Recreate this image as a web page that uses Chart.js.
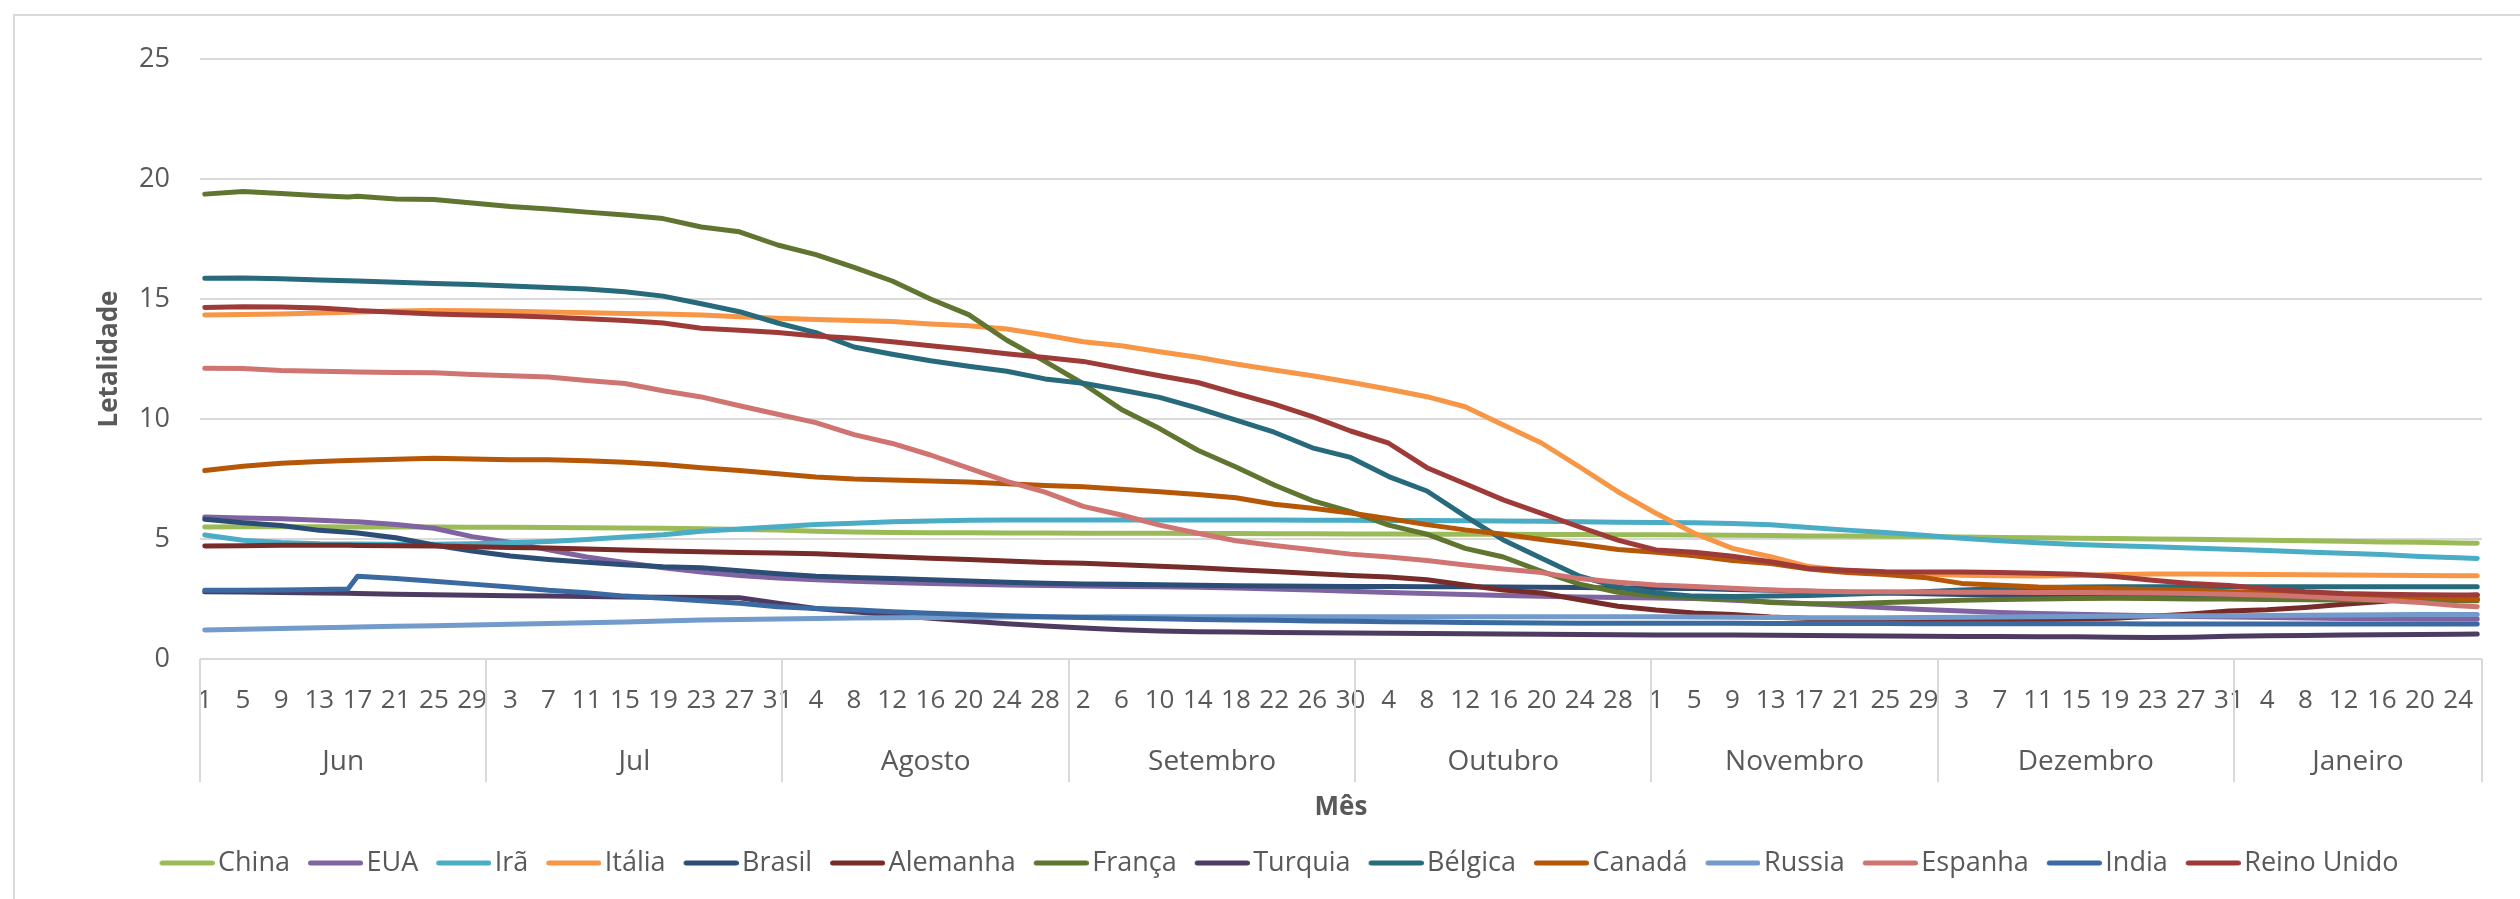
<!DOCTYPE html>
<html>
<head>
<meta charset="utf-8">
<title>Letalidade por mês</title>
<script src="https://cdn.jsdelivr.net/npm/chart.js@4.4.1/dist/chart.umd.min.js"></script>
<style>
  html, body { margin: 0; padding: 0; background: #fff; }
  #wrap { position: relative; width: 2520px; height: 899px; }
  #frame { position: absolute; left: 13px; top: 14px; right: 0; bottom: 0;
           border-left: 2px solid #d9d9d9; border-top: 2px solid #d9d9d9; pointer-events: none; }
  canvas { display: block; }
</style>
</head>
<body>
<div id="wrap">
  <canvas id="chart" width="2520" height="899"></canvas>
  <div id="frame"></div>
</div>
<script>
// categories: one entry per day, Jun 1 .. Jan 26 (Aug has 30 rows in the sheet)
const monthNames = ['Jun', 'Jul', 'Agosto', 'Setembro', 'Outubro', 'Novembro', 'Dezembro', 'Janeiro']
const monthDays = [30, 31, 30, 30, 31, 30, 31, 26]

// day index of every value
const sampleDays = [0, 4, 8, 12, 15, 16, 20, 24, 28, 32,
  36, 40, 44, 48, 52, 56, 60, 64, 68, 72,
  76, 80, 84, 88, 92, 96, 100, 104, 108, 112,
  116, 120, 124, 128, 132, 136, 140, 144, 148, 152,
  156, 160, 164, 168, 172, 176, 180, 184, 188, 192,
  196, 200, 204, 208, 212, 216, 220, 224, 228, 232,
  236, 238]

const china = [5.50, 5.51, 5.51, 5.51, 5.50, 5.50, 5.50, 5.50, 5.49, 5.49,
  5.48, 5.47, 5.46, 5.45, 5.43, 5.40, 5.37, 5.32, 5.29, 5.27,
  5.26, 5.26, 5.25, 5.25, 5.24, 5.24, 5.24, 5.23, 5.23, 5.22,
  5.22, 5.21, 5.21, 5.20, 5.20, 5.20, 5.19, 5.19, 5.18, 5.18,
  5.17, 5.16, 5.15, 5.13, 5.12, 5.11, 5.10, 5.08, 5.06, 5.05,
  5.03, 5.02, 5.00, 4.99, 4.97, 4.95, 4.93, 4.91, 4.88, 4.86,
  4.83, 4.82]
const eua = [5.92, 5.88, 5.84, 5.78, 5.73, 5.72, 5.60, 5.45, 5.10, 4.86,
  4.55, 4.25, 4.02, 3.80, 3.62, 3.48, 3.38, 3.30, 3.24, 3.19,
  3.15, 3.11, 3.08, 3.06, 3.04, 3.02, 3.01, 2.99, 2.96, 2.92,
  2.87, 2.82, 2.77, 2.73, 2.69, 2.65, 2.61, 2.58, 2.56, 2.54,
  2.52, 2.45, 2.38, 2.30, 2.22, 2.14, 2.06, 2.00, 1.94, 1.90,
  1.86, 1.83, 1.80, 1.77, 1.75, 1.73, 1.71, 1.69, 1.68, 1.67,
  1.67, 1.67]
const ira = [5.17, 4.95, 4.85, 4.80, 4.79, 4.79, 4.78, 4.78, 4.80, 4.84,
  4.90, 4.98, 5.08, 5.18, 5.32, 5.42, 5.51, 5.60, 5.66, 5.72,
  5.75, 5.78, 5.79, 5.79, 5.79, 5.79, 5.79, 5.79, 5.79, 5.79,
  5.78, 5.78, 5.77, 5.77, 5.76, 5.75, 5.74, 5.72, 5.70, 5.69,
  5.68, 5.65, 5.59, 5.48, 5.37, 5.27, 5.16, 5.03, 4.93, 4.84,
  4.77, 4.72, 4.68, 4.62, 4.57, 4.52, 4.46, 4.41, 4.35, 4.27,
  4.22, 4.19]
const italia = [14.33, 14.35, 14.38, 14.42, 14.45, 14.46, 14.50, 14.52, 14.51, 14.49,
  14.46, 14.43, 14.40, 14.37, 14.33, 14.26, 14.20, 14.15, 14.10, 14.06,
  13.96, 13.89, 13.75, 13.50, 13.22, 13.05, 12.80, 12.57, 12.29, 12.04,
  11.80, 11.53, 11.24, 10.93, 10.51, 9.75, 9.00, 8.00, 6.97, 6.07,
  5.24, 4.61, 4.26, 3.85, 3.68, 3.60, 3.54, 3.49, 3.47, 3.46,
  3.48, 3.52, 3.54, 3.54, 3.53, 3.52, 3.51, 3.50, 3.49, 3.48,
  3.47, 3.47]
const brasil = [5.82, 5.68, 5.56, 5.36, 5.28, 5.25, 5.05, 4.75, 4.50, 4.29,
  4.15, 4.03, 3.93, 3.84, 3.80, 3.68, 3.55, 3.45, 3.40, 3.35,
  3.30, 3.25, 3.20, 3.16, 3.13, 3.11, 3.09, 3.07, 3.05, 3.04,
  3.03, 3.02, 3.02, 3.01, 3.01, 3.00, 2.99, 2.98, 2.96, 2.95,
  2.94, 2.90, 2.86, 2.82, 2.78, 2.75, 2.72, 2.69, 2.66, 2.63,
  2.61, 2.59, 2.57, 2.56, 2.55, 2.54, 2.53, 2.52, 2.51, 2.50,
  2.50, 2.50]
const alemanha = [4.71, 4.72, 4.74, 4.74, 4.74, 4.73, 4.72, 4.71, 4.68, 4.65,
  4.62, 4.58, 4.54, 4.50, 4.47, 4.44, 4.42, 4.39, 4.32, 4.26,
  4.20, 4.15, 4.08, 4.02, 3.99, 3.93, 3.86, 3.80, 3.72, 3.65,
  3.56, 3.48, 3.42, 3.30, 3.08, 2.87, 2.75, 2.47, 2.20, 2.04,
  1.92, 1.85, 1.75, 1.69, 1.66, 1.64, 1.63, 1.63, 1.63, 1.64,
  1.67, 1.70, 1.78, 1.88, 2.00, 2.05, 2.15, 2.28, 2.40, 2.53,
  2.63, 2.67]
const franca = [19.37, 19.48, 19.40, 19.30, 19.25, 19.28, 19.17, 19.15, 19.00, 18.85,
  18.75, 18.62, 18.50, 18.35, 18.00, 17.80, 17.25, 16.85, 16.32, 15.75,
  15.00, 14.35, 13.28, 12.40, 11.47, 10.40, 9.60, 8.70, 8.00, 7.25,
  6.60, 6.14, 5.58, 5.20, 4.61, 4.25, 3.65, 3.12, 2.78, 2.62,
  2.53, 2.50, 2.35, 2.30, 2.30, 2.35, 2.40, 2.45, 2.48, 2.50,
  2.52, 2.53, 2.52, 2.50, 2.50, 2.48, 2.47, 2.46, 2.45, 2.44,
  2.43, 2.43]
const turquia = [2.80, 2.79, 2.77, 2.75, 2.74, 2.73, 2.70, 2.68, 2.66, 2.64,
  2.62, 2.60, 2.58, 2.57, 2.56, 2.55, 2.32, 2.10, 1.97, 1.83,
  1.70, 1.58, 1.47, 1.37, 1.29, 1.22, 1.17, 1.14, 1.12, 1.10,
  1.09, 1.08, 1.07, 1.06, 1.05, 1.04, 1.03, 1.02, 1.01, 1.00,
  1.00, 1.00, 0.99, 0.98, 0.97, 0.96, 0.95, 0.94, 0.94, 0.93,
  0.93, 0.91, 0.90, 0.91, 0.95, 0.97, 0.98, 1.00, 1.01, 1.02,
  1.03, 1.04]
const belgica = [15.86, 15.88, 15.84, 15.79, 15.76, 15.75, 15.70, 15.65, 15.60, 15.54,
  15.48, 15.42, 15.30, 15.12, 14.80, 14.47, 14.00, 13.60, 13.00, 12.70,
  12.43, 12.20, 11.99, 11.67, 11.49, 11.21, 10.90, 10.45, 9.95, 9.45,
  8.80, 8.40, 7.60, 7.00, 5.95, 4.96, 4.20, 3.45, 3.00, 2.75,
  2.62, 2.60, 2.62, 2.65, 2.70, 2.75, 2.80, 2.87, 2.93, 2.97,
  3.00, 3.01, 3.01, 3.01, 3.01, 3.01, 3.01, 3.01, 3.01, 3.01,
  3.01, 3.01]
const canada = [7.85, 8.03, 8.16, 8.23, 8.27, 8.28, 8.32, 8.36, 8.33, 8.30,
  8.30, 8.26, 8.20, 8.10, 7.97, 7.85, 7.72, 7.58, 7.50, 7.46,
  7.42, 7.37, 7.30, 7.23, 7.18, 7.07, 6.97, 6.85, 6.72, 6.45,
  6.28, 6.08, 5.85, 5.60, 5.38, 5.20, 4.98, 4.78, 4.56, 4.45,
  4.30, 4.10, 3.98, 3.75, 3.60, 3.52, 3.40, 3.15, 3.07, 3.00,
  2.97, 2.93, 2.90, 2.86, 2.80, 2.77, 2.73, 2.68, 2.63, 2.58,
  2.52, 2.50]
const russia = [1.21, 1.24, 1.27, 1.30, 1.32, 1.33, 1.36, 1.39, 1.42, 1.45,
  1.48, 1.51, 1.54, 1.58, 1.62, 1.65, 1.67, 1.69, 1.71, 1.72,
  1.73, 1.74, 1.75, 1.75, 1.75, 1.76, 1.76, 1.76, 1.76, 1.76,
  1.76, 1.76, 1.76, 1.76, 1.76, 1.76, 1.76, 1.76, 1.76, 1.76,
  1.75, 1.74, 1.73, 1.72, 1.72, 1.72, 1.73, 1.74, 1.75, 1.76,
  1.77, 1.78, 1.79, 1.80, 1.80, 1.81, 1.82, 1.83, 1.84, 1.85,
  1.85, 1.85]
const espanha = [12.11, 12.10, 12.02, 11.99, 11.97, 11.96, 11.94, 11.93, 11.85, 11.80,
  11.75, 11.60, 11.48, 11.18, 10.92, 10.55, 10.20, 9.85, 9.35, 8.98,
  8.50, 7.95, 7.40, 6.95, 6.36, 6.00, 5.58, 5.24, 4.93, 4.73,
  4.55, 4.37, 4.25, 4.10, 3.92, 3.75, 3.60, 3.35, 3.20, 3.08,
  3.02, 2.95, 2.88, 2.83, 2.80, 2.80, 2.79, 2.78, 2.78, 2.77,
  2.77, 2.76, 2.75, 2.73, 2.70, 2.66, 2.60, 2.52, 2.45, 2.35,
  2.22, 2.18]
const india = [2.86, 2.86, 2.87, 2.90, 2.92, 3.45, 3.35, 3.24, 3.12, 3.00,
  2.86, 2.76, 2.62, 2.53, 2.43, 2.32, 2.18, 2.10, 2.05, 1.97,
  1.91, 1.85, 1.80, 1.76, 1.73, 1.70, 1.68, 1.65, 1.63, 1.61,
  1.58, 1.57, 1.55, 1.54, 1.52, 1.51, 1.50, 1.49, 1.49, 1.49,
  1.49, 1.49, 1.48, 1.48, 1.48, 1.48, 1.47, 1.47, 1.47, 1.47,
  1.47, 1.47, 1.46, 1.46, 1.46, 1.46, 1.46, 1.46, 1.46, 1.46,
  1.46, 1.46]
const reinoUnido = [14.65, 14.68, 14.67, 14.62, 14.55, 14.52, 14.45, 14.38, 14.33, 14.30,
  14.25, 14.18, 14.10, 14.00, 13.78, 13.70, 13.60, 13.46, 13.36, 13.22,
  13.05, 12.90, 12.72, 12.56, 12.40, 12.10, 11.80, 11.52, 11.07, 10.62,
  10.10, 9.50, 8.99, 7.97, 7.30, 6.63, 6.07, 5.50, 4.95, 4.54,
  4.45, 4.28, 4.05, 3.77, 3.70, 3.64, 3.63, 3.62, 3.60, 3.57,
  3.53, 3.44, 3.28, 3.15, 3.06, 2.92, 2.80, 2.73, 2.70, 2.68,
  2.67, 2.67]

const series = [
  ['China', '#9BBB59', china],
  ['EUA', '#8064A2', eua],
  ['Irã', '#4BACC6', ira],
  ['Itália', '#F79646', italia],
  ['Brasil', '#2C4D75', brasil],
  ['Alemanha', '#772C2A', alemanha],
  ['França', '#5F7530', franca],
  ['Turquia', '#4D3B62', turquia],
  ['Bélgica', '#276A7C', belgica],
  ['Canadá', '#B65708', canada],
  ['Russia', '#729ACA', russia],
  ['Espanha', '#CF7471', espanha],
  ['India', '#3B69A1', india],
  ['Reino Unido', '#9E3B39', reinoUnido],
]

// day of month for each category, and the month groups
const dayOfMonth = []
const monthStart = []
monthDays.forEach(n => {
  monthStart.push(dayOfMonth.length)
  for (let d = 1; d <= n; d++) dayOfMonth.push(d)
})
const lastDay = dayOfMonth.length - 1
const dayTicks = dayOfMonth.map((d, i) => i).filter(i => i % 4 === 0)
const monthCenters = monthStart.map((s, k) => s + (monthDays[k] - 1) / 2)
const monthEdges = monthStart.map(s => s - 0.5).concat(lastDay + 0.5)

const grey = '#595959'
const lineGrey = '#d9d9d9'
Chart.defaults.font.family = "'Open Sans', sans-serif"
Chart.defaults.color = grey

// legend swatch: 55px line, drawn so the label sits right after it like in Excel
const swatch = color => {
  const c = document.createElement('canvas')
  c.width = 65
  c.height = 8
  const g = c.getContext('2d')
  g.strokeStyle = color
  g.lineWidth = 5
  g.lineCap = 'round'
  g.beginPath()
  g.moveTo(12.5, 4)
  g.lineTo(62.5, 4)
  g.stroke()
  return c
}

// vertical separators between the month groups under the plot
const monthLines = {
  id: 'monthLines',
  afterDraw(chart) {
    const { ctx, chartArea } = chart
    const scale = chart.scales.month
    ctx.save()
    ctx.strokeStyle = lineGrey
    ctx.lineWidth = 2
    monthEdges.forEach(v => {
      const x = Math.round(scale.getPixelForValue(v))
      ctx.beginPath()
      ctx.moveTo(x, chartArea.bottom)
      ctx.lineTo(x, chartArea.bottom + 123)
      ctx.stroke()
    })
    ctx.restore()
  },
}

const datasets = series.map(([label, color, vals], n) => ({
  label,
  data: vals.map((v, k) => ({ x: sampleDays[k], y: v })),
  borderColor: color,
  backgroundColor: color,
  borderWidth: 5,
  borderCapStyle: 'round',
  borderJoinStyle: 'round',
  pointRadius: 0,
  pointHoverRadius: 0,
  pointStyle: swatch(color),
  tension: 0,
  order: series.length - n,
}))

new Chart(document.getElementById('chart'), {
  type: 'line',
  data: { datasets },
  plugins: [monthLines],
  options: {
    responsive: false,
    devicePixelRatio: 1,
    animation: false,
    events: [],
    layout: { padding: { left: 76, right: 38, top: 59, bottom: 12.5 } },
    plugins: {
      tooltip: { enabled: false },
      legend: {
        position: 'bottom',
        labels: {
          usePointStyle: true,
          pointStyleWidth: 45,
          padding: 18,
          color: grey,
          font: { size: 27 },
          sort: (a, b) => a.datasetIndex - b.datasetIndex,
        },
      },
    },
    scales: {
      x: {
        type: 'linear',
        position: 'bottom',
        min: -0.5,
        max: lastDay + 0.5,
        afterBuildTicks: s => { s.ticks = dayTicks.map(v => ({ value: v })) },
        afterFit: s => { s.height = 80 },
        ticks: {
          autoSkip: false,
          maxRotation: 0,
          padding: 26,
          font: { size: 26 },
          callback: v => dayOfMonth[v],
        },
        grid: { display: false, drawTicks: false },
        border: { display: false },
      },
      month: {
        type: 'linear',
        axis: 'x',
        position: 'bottom',
        min: -0.5,
        max: lastDay + 0.5,
        afterBuildTicks: s => { s.ticks = monthCenters.map(v => ({ value: v })) },
        afterFit: s => { s.height = 92.5 },
        ticks: {
          autoSkip: false,
          maxRotation: 0,
          padding: 6,
          font: { size: 28 },
          callback: (v, k) => monthNames[k],
        },
        grid: { display: false, drawTicks: false },
        border: { display: false },
        title: {
          display: true,
          text: 'Mês',
          color: grey,
          font: { size: 26, weight: 'bold' },
          padding: { top: 0, bottom: 8 },
        },
      },
      y: {
        min: 0,
        max: 25,
        afterFit: s => { s.width = 124 },
        ticks: { stepSize: 5, padding: 30, font: { size: 27 } },
        grid: { color: lineGrey, lineWidth: 2, drawTicks: false },
        border: { display: false },
        title: {
          display: true,
          text: 'Letalidade',
          color: grey,
          font: { size: 26, weight: 'bold' },
          padding: { top: 18, bottom: 0 },
        },
      },
    },
  },
})
</script>
</body>
</html>
